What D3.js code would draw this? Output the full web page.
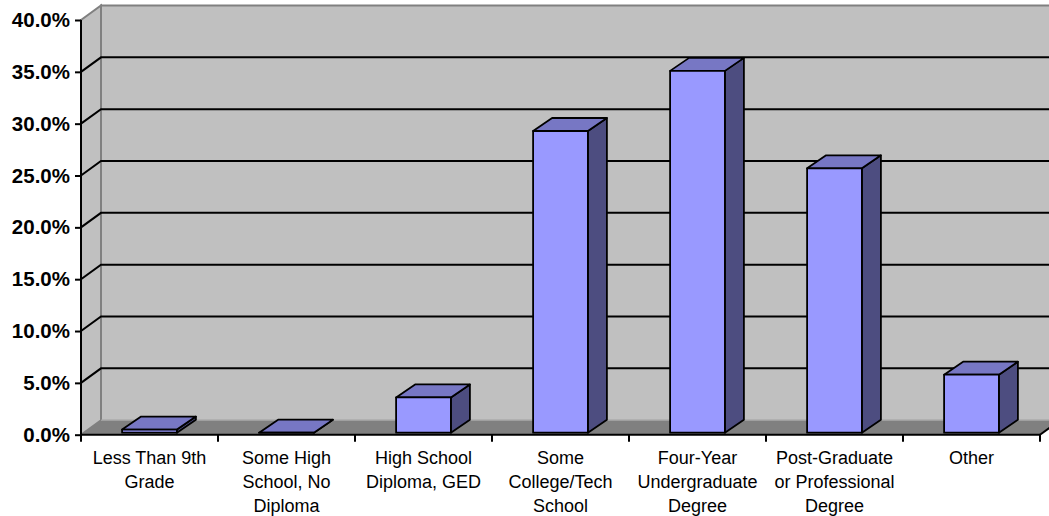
<!DOCTYPE html>
<html>
<head>
<meta charset="utf-8">
<script src="https://cdn.jsdelivr.net/npm/d3@7"></script>
<style>
  html, body { margin: 0; padding: 0; background: #ffffff; }
  svg { display: block; }
</style>
</head>
<body>
<svg id="chart" width="1049" height="516"></svg>
<script>
// Education level distribution
const categories = [
  ["Less Than 9th", "Grade"],
  ["Some High", "School, No", "Diploma"],
  ["High School", "Diploma, GED"],
  ["Some", "College/Tech", "School"],
  ["Four-Year", "Undergraduate", "Degree"],
  ["Post-Graduate", "or Professional", "Degree"],
  ["Other"]
];
const values = [0.003, 0.0, 0.034, 0.291, 0.349, 0.255, 0.056];
const yTicks = [0, 0.05, 0.10, 0.15, 0.20, 0.25, 0.30, 0.35, 0.40];

const svg = d3.select("#chart");
const W = 1049, H = 516;

// front plane of the 3-D box
const pL = 81, pR = 1040, pT = 20, pB = 434.7;
// depth offset of the back wall
const DX = 20, DY = -14.5;

const keys = categories.map((c, i) => i);
const x = d3.scaleBand().domain(keys).range([pL, pR]).padding(0);
const y = d3.scaleLinear().domain([0, 0.4]).range([pB, pT]);

const wallFill = "#c0c0c0", wallEdge = "#808080", floorFill = "#808080";
const line = d3.line();

// back wall
svg.append("path")
  .attr("d", line([[pL + DX, pT + DY], [pR + DX + 30, pT + DY], [pR + DX + 30, pB + DY], [pL + DX, pB + DY]]))
  .attr("fill", wallFill);
svg.append("path")
  .attr("d", line([[pR + DX + 30, pT + DY], [pL + DX, pT + DY], [pL + DX, pB + DY]]))
  .attr("fill", "none").attr("stroke", wallEdge).attr("stroke-width", 2);

// left side wall
svg.append("path")
  .attr("d", line([[pL, pT], [pL + DX, pT + DY], [pL + DX, pB + DY], [pL, pB]]) + "Z")
  .attr("fill", wallFill).attr("stroke", wallEdge).attr("stroke-width", 2);

// floor
svg.append("path")
  .attr("d", line([[pL, pB], [pR, pB], [pR + DX, pB + DY], [pL + DX, pB + DY]]) + "Z")
  .attr("fill", floorFill);
svg.append("path")
  .attr("d", line([[pL + DX, pB + DY], [pR + DX + 30, pB + DY]]))
  .attr("stroke", "#a0a0a0").attr("stroke-width", 1.5);
svg.append("path")
  .attr("d", line([[pR, pB], [pR + DX, pB + DY]]))
  .attr("stroke", "#000").attr("stroke-width", 2);

// gridlines: diagonal on side wall, horizontal on back wall
const grid = yTicks.filter(t => t > 0 && t < 0.4);
svg.append("g").selectAll("path").data(grid).join("path")
  .attr("d", t => line([[pL, y(t)], [pL + DX, y(t) + DY], [W + 20, y(t) + DY]]))
  .attr("fill", "none").attr("stroke", "#000").attr("stroke-width", 2);

// bars
const bw = x.bandwidth() * 0.4;
const base = pB - 2;
const bDX = 19, bDY = -13;
const bars = svg.append("g").selectAll("g").data(values).join("g");
bars.each(function (v, i) {
  const g = d3.select(this);
  const x0 = x(i) + x.bandwidth() * 0.3, x1 = x0 + bw;
  const yt = y(v) - 2;
  // side face
  g.append("path")
    .attr("d", line([[x1, yt], [x1 + bDX, yt + bDY], [x1 + bDX, base + bDY], [x1, base]]) + "Z")
    .attr("fill", "#4d4d80").attr("stroke", "#000").attr("stroke-width", 1.8).attr("stroke-linejoin", "round");
  // top face
  g.append("path")
    .attr("d", line([[x0, yt], [x0 + bDX, yt + bDY], [x1 + bDX, yt + bDY], [x1, yt]]) + "Z")
    .attr("fill", "#7777c4").attr("stroke", "#000").attr("stroke-width", 1.8).attr("stroke-linejoin", "round");
  // front face
  g.append("path")
    .attr("d", line([[x0, yt], [x1, yt], [x1, base], [x0, base]]) + "Z")
    .attr("fill", "#9999ff").attr("stroke", "#000").attr("stroke-width", 1.8).attr("stroke-linejoin", "round");
});

// value axis
const yAxis = svg.append("g").attr("transform", `translate(${pL},0)`)
  .call(d3.axisLeft(y).tickValues(yTicks).tickSize(6).tickPadding(5).tickFormat(d3.format(".1%")));
yAxis.select(".domain").attr("stroke", "#000").attr("stroke-width", 2).attr("d", `M0,${pT}V${pB}`);
yAxis.selectAll(".tick line").attr("stroke", "#000").attr("stroke-width", 2);
yAxis.selectAll(".tick text")
  .attr("font-family", "Liberation Sans, Arial, sans-serif")
  .attr("font-size", 20.5).attr("font-weight", "bold").attr("fill", "#000");

// category axis
const xAxis = svg.append("g").attr("transform", `translate(0,${pB})`);
xAxis.append("path").attr("d", `M${pL},0H${pR}`).attr("stroke", "#000").attr("stroke-width", 2);
const bounds = keys.map(k => x(k)).concat([pR]);
xAxis.selectAll("line.tk").data(bounds).join("line").attr("class", "tk")
  .attr("x1", d => d).attr("x2", d => d).attr("y1", 0).attr("y2", 7)
  .attr("stroke", "#000").attr("stroke-width", 2);

const labels = xAxis.selectAll("text").data(categories).join("text")
  .attr("text-anchor", "middle")
  .attr("font-family", "Liberation Sans, Arial, sans-serif")
  .attr("font-size", 18).attr("fill", "#000");
labels.each(function (lines, i) {
  const t = d3.select(this);
  lines.forEach((s, j) => {
    t.append("tspan").attr("x", x(i) + x.bandwidth() / 2).attr("y", 29 + j * 24).text(s);
  });
});
</script>
</body>
</html>
